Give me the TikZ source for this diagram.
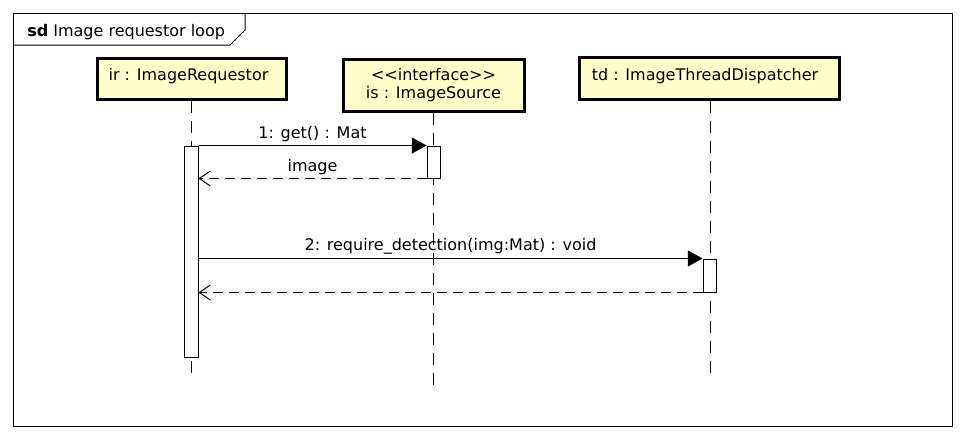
\documentclass[tikz,border=0pt]{standalone}
\usepackage{fontspec}
\setmainfont{DejaVu Sans}
\usepackage{xcolor}
\usetikzlibrary{arrows.meta}
\definecolor{objyellow}{HTML}{FFFFCC}
\tikzset{
	objbox/.style={draw, line width=2.25pt, fill=objyellow, inner sep=0pt},
	actbar/.style={draw, line width=0.75pt, fill=white, minimum width=14*0.75pt, inner sep=0pt},
	lifeline/.style={line width=0.75pt, dash pattern=on 9pt off 6pt},
	callmsg/.style={line width=0.75pt, -{Triangle[length=11pt,width=12pt]}},
	replymsg/.style={line width=0.75pt, dash pattern=on 7.5pt off 4.5pt, -{Straight Barb[length=8pt,width=11pt,line width=0.75pt]}},
	msglbl/.style={above, inner sep=2.5pt}
}

\begin{document}
\begin{tikzpicture}[x=0.75pt, y=-0.75pt, font=\fontsize{12pt}{14pt}\selectfont]
	\useasboundingbox (0,0) rectangle (966,440);
	% frame
	\draw[line width=0.75pt] (13,13) rectangle (952,426);
	\draw[line width=0.75pt] (13,45) -- (230,45) -- (245,30) -- (245,13);
	\node[anchor=base west, inner sep=0pt] (title) at (27,36) {\textbf{sd} Image requestor loop};
	% objects
	\node[objbox, minimum width=189*0.75pt, minimum height=41*0.75pt] (ir) at (191.5,78.5) {};
	\node[anchor=base, inner sep=0pt] (irlbl) at (188.5,80) {ir : ImageRequestor};
	\node[objbox, minimum width=181*0.75pt, minimum height=52*0.75pt] (is) at (433.5,85) {};
	\node[align=center, inner sep=0pt] (islbl) at (433.5,85) {{<}{<}interface{>}{>}\\is : ImageSource};
	\node[objbox, minimum width=260*0.75pt, minimum height=42*0.75pt] (td) at (709,78.5) {};
	\node[anchor=base, inner sep=0pt] (tdlbl) at (705,80) {td : ImageThreadDispatcher};
	% lifelines
	\coordinate (irend) at (191,378);
	\coordinate (isend) at (433.5,387);
	\coordinate (tdend) at (710,378);
	\draw[lifeline] (ir.south -| irend) -- (irend);
	\draw[lifeline] (is.south) -- (isend);
	\draw[lifeline] (td.south -| tdend) -- (tdend);
	% activations
	\node[actbar, minimum height=211*0.75pt] (irbar) at (191,251.5) {};
	\node[actbar, minimum height=32*0.75pt, minimum width=13*0.75pt] (isbar) at (433.5,162) {};
	\node[actbar, minimum height=33*0.75pt, minimum width=13*0.75pt] (tdbar) at (709.5,275.5) {};
	% messages
	\draw[callmsg] (irbar.east |- isbar.north) -- node[msglbl] (getlbl) {1: get() : Mat} (isbar.north west);
	\draw[replymsg] (isbar.south west) -- node[msglbl] (imglbl) {image} (irbar.east |- isbar.south);
	\draw[callmsg] (irbar.east |- tdbar.north) -- node[msglbl] (reqlbl) {2: require\_detection(img:Mat) : void} (tdbar.north west);
	\draw[replymsg] (tdbar.south west) -- (irbar.east |- tdbar.south);
\end{tikzpicture}
\end{document}
